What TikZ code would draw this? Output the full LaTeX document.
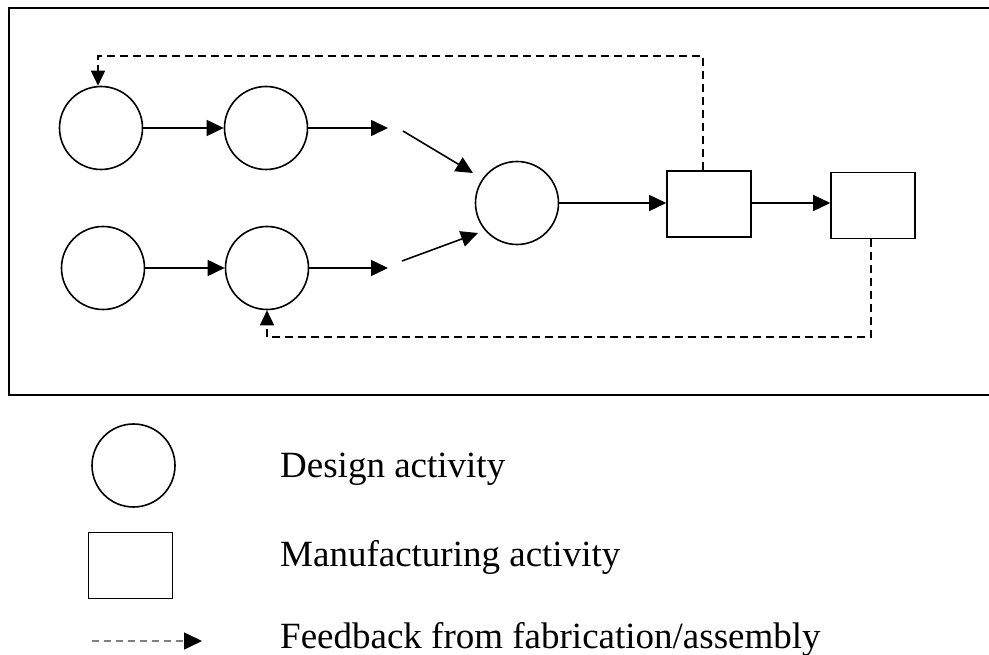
\documentclass[tikz,border=0pt]{standalone}
\usepackage{fontspec}
\setmainfont{Liberation Serif}
\usetikzlibrary{arrows.meta,calc}

\tikzset{
  design/.style={circle, draw, line width=1.6pt, minimum size=83pt, inner sep=0pt},
  manuf/.style={rectangle, draw, line width=1.6pt, minimum width=84pt, minimum height=66pt, inner sep=0pt},
  flow/.style={line width=1.6pt, -{Triangle[length=17pt,width=16pt]}},
  fb/.style={line width=1.6pt, dash pattern=on 8pt off 5pt, -{Triangle[length=15pt,width=14pt]}},
  legendtext/.style={anchor=base west, inner sep=0pt, font=\fontsize{37}{42}\selectfont}
}

\begin{document}
\begin{tikzpicture}[x=1pt, y=-1pt]
  \useasboundingbox (0,0) rectangle (989,655);

  % outer frame (runs past the right edge)
  \draw[line width=2pt] (1000,8.5) -- (9,8.5) -- (9,395) -- (1000,395);

  % design activities
  \node[design] (a1) at (101,128) {};
  \node[design] (a2) at (266,128) {};
  \node[design] (b1) at (103,268) {};
  \node[design] (b2) at (267,268) {};
  \node[design] (c)  at (517,203) {};

  % manufacturing activities
  \node[manuf] (m1) at (709,204) {};
  \node[manuf] (m2) at (873,205.5) {};

  % free ends of the open-ended arrows
  \coordinate (a2out) at (388,128);
  \coordinate (b2out) at (388,268);
  \coordinate (u1) at (403,131);
  \coordinate (u2) at (473,173);
  \coordinate (l1) at (402,261);
  \coordinate (l2) at (478,233);

  % forward flow
  \draw[flow] (a1.east) -- (a2.west);
  \draw[flow] (a2.east) -- (a2out);
  \draw[flow] (b1.east) -- (b2.west);
  \draw[flow] (b2.east) -- (b2out);
  \draw[flow] (u1) -- (u2);
  \draw[flow] (l1) -- (l2);
  \draw[flow] (c.east) -- (c.east -| m1.west);
  \draw[flow] (m1.east |- c.east) -- (c.east -| m2.west);

  % feedback loops
  \coordinate (topturn) at (98,56);
  \coordinate (botturn) at (267,337);
  \draw[fb] ([xshift=-6pt]m1.north) |- (topturn) -- (topturn |- a1.north);
  \draw[fb] ([xshift=-2pt]m2.south) |- (botturn) -- (b2.south);

  % legend
  \node[design] (ld) at (133.5,465.5) {};
  \node[manuf] (lm) at (130.3,565.3) {};
  \coordinate (lf1) at (92,641);
  \coordinate (lf2) at (202,641);
  \draw[line width=1.6pt, draw=black!50, dash pattern=on 7pt off 5pt,
        -{Triangle[length=18pt,width=17pt,color=black]}] (lf1) -- (lf2);

  \node[legendtext] (td) at (280,477.5) {Design activity};
  \node[legendtext] (tm) at (280,566.5) {Manufacturing activity};
  \node[legendtext] (tf) at (280,648) {Feedback from fabrication/assembly};
\end{tikzpicture}
\end{document}
